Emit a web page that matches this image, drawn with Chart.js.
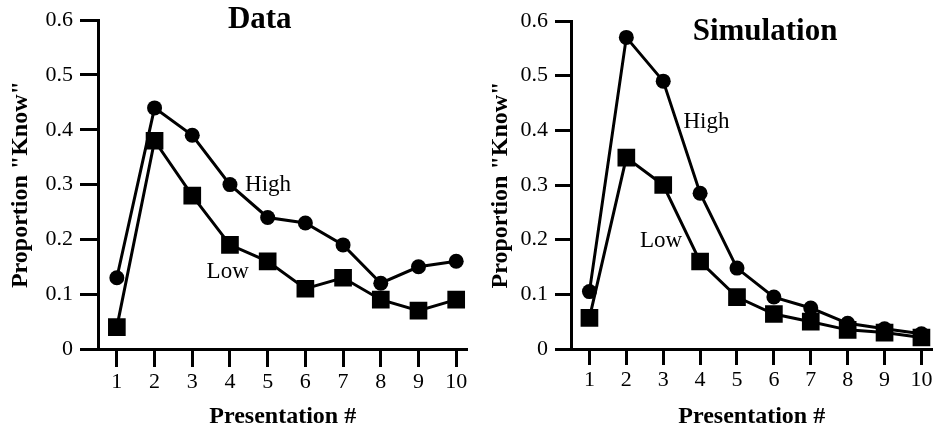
<!DOCTYPE html>
<html>
<head>
<meta charset="utf-8">
<script src="https://cdn.jsdelivr.net/npm/chart.js@4"></script>
<style>
  html, body { margin: 0; padding: 0; background: #fff; }
  #wrap { position: relative; width: 945px; height: 429px; overflow: hidden; }
  #leftChart { position: absolute; left: 0; top: 0; }
  #rightChart { position: absolute; left: 480px; top: 0; }
</style>
</head>
<body>
<div id="wrap">
  <canvas id="leftChart" width="480" height="429"></canvas>
  <canvas id="rightChart" width="465" height="429"></canvas>
</div>
<script>
// Данные
const presentations = [1, 2, 3, 4, 5, 6, 7, 8, 9, 10];
const dataHigh = [0.13, 0.44, 0.39, 0.30, 0.24, 0.23, 0.19, 0.12, 0.15, 0.16];
const dataLow  = [0.04, 0.38, 0.28, 0.19, 0.16, 0.11, 0.13, 0.09, 0.07, 0.09];
const simHigh  = [0.105, 0.57, 0.49, 0.285, 0.148, 0.095, 0.075, 0.047, 0.037, 0.028];
const simLow   = [0.057, 0.35, 0.30, 0.16, 0.095, 0.064, 0.05, 0.035, 0.03, 0.021];
const yTicks = [0, 0.1, 0.2, 0.3, 0.4, 0.5, 0.6];
const xTicks = [1, 2, 3, 4, 5, 6, 7, 8, 9, 10];
const panelTitles = ['Data', 'Simulation'];
const seriesNames = ['High', 'Low'];
const yTitle = 'Proportion "Know"';
const xTitle = 'Presentation #';

const serif = "'Liberation Serif', 'Times New Roman', serif";

// подписи внутри графика (в единицах осей)
function textPlugin(items) {
    return {
        id: 'texts',
        afterDatasetsDraw(chart) {
            const ctx = chart.ctx;
            const sx = chart.scales.x, sy = chart.scales.y;
            ctx.save();
            ctx.fillStyle = '#000';
            ctx.textBaseline = 'middle';
            items.forEach(it => {
                ctx.font = it.font;
                ctx.textAlign = it.align;
                ctx.fillText(it.text, sx.getPixelForValue(it.x), sy.getPixelForValue(it.y));
            });
            ctx.restore();
        }
    };
}

function makeChart(canvasId, high, low, opts) {
    const pts = arr => presentations.map((p, i) => ({ x: p, y: arr[i] }));
    return new Chart(document.getElementById(canvasId), {
        type: 'line',
        data: {
            datasets: [
                {
                    label: seriesNames[0],
                    data: pts(high),
                    borderColor: '#000',
                    backgroundColor: '#000',
                    borderWidth: 3,
                    pointStyle: 'circle',
                    pointRadius: 7.5,
                    pointBorderWidth: 0,
                    tension: 0
                },
                {
                    label: seriesNames[1],
                    data: pts(low),
                    borderColor: '#000',
                    backgroundColor: '#000',
                    borderWidth: 3,
                    pointStyle: 'rect',
                    pointRadius: 12.5,
                    pointBorderWidth: 0,
                    tension: 0
                }
            ]
        },
        options: {
            responsive: false,
            animation: false,
            devicePixelRatio: 1,
            layout: { padding: { left: 0, right: opts.padRight, top: opts.padTop, bottom: 0 } },
            plugins: {
                legend: { display: false },
                tooltip: { enabled: false },
                title: { display: false }
            },
            scales: {
                x: {
                    type: 'linear',
                    min: 0.5,
                    max: 10.3,
                    afterBuildTicks: s => { s.ticks = xTicks.map(v => ({ value: v })); },
                    afterFit: s => { s.height = 80; },
                    grid: {
                        drawOnChartArea: false,
                        drawTicks: true,
                        tickLength: opts.tickLen,
                        tickWidth: 3,
                        tickColor: '#000'
                    },
                    border: { display: true, color: '#000', width: 3 },
                    ticks: {
                        color: '#000',
                        padding: 2,
                        maxRotation: 0,
                        autoSkip: false,
                        font: { family: serif, size: 22 }
                    },
                    title: {
                        display: true,
                        text: xTitle,
                        color: '#000',
                        padding: 0,
                        font: { family: serif, size: 24, weight: 'bold', lineHeight: 1 }
                    }
                },
                y: {
                    min: 0,
                    max: 0.6,
                    afterBuildTicks: s => { s.ticks = yTicks.map(v => ({ value: v })); },
                    afterFit: s => { s.width = opts.yWidth; },
                    grid: {
                        drawOnChartArea: false,
                        drawTicks: true,
                        tickLength: opts.tickLen,
                        tickWidth: 3,
                        tickColor: '#000'
                    },
                    border: { display: true, color: '#000', width: 3 },
                    ticks: {
                        color: '#000',
                        padding: 7,
                        font: { family: serif, size: 22 },
                        callback: v => v === 0 ? '0' : v.toFixed(1)
                    },
                    title: {
                        display: true,
                        text: yTitle,
                        color: '#000',
                        padding: { top: 6, bottom: 0 },
                        font: { family: serif, size: 24, weight: 'bold', lineHeight: 1.2 }
                    }
                }
            }
        },
        plugins: [textPlugin(opts.texts)]
    });
}

window.onload = function() {
    makeChart('leftChart', dataHigh, dataLow, {
        padRight: 7, padTop: 15, yWidth: 98, tickLen: 18,
        texts: [
            { text: panelTitles[0], x: 4.79, y: 0.6, align: 'center', font: 'bold 31px ' + serif },
            { text: seriesNames[0], x: 4.4, y: 0.30, align: 'left', font: '23px ' + serif },
            { text: seriesNames[1], x: 3.38, y: 0.14, align: 'left', font: '23px ' + serif }
        ]
    });
    makeChart('rightChart', simHigh, simLow, {
        padRight: 2, padTop: 21, yWidth: 91, tickLen: 16,
        texts: [
            { text: panelTitles[1], x: 5.76, y: 0.58, align: 'center', font: 'bold 31px ' + serif },
            { text: seriesNames[0], x: 3.55, y: 0.415, align: 'left', font: '23px ' + serif },
            { text: seriesNames[1], x: 2.37, y: 0.197, align: 'left', font: '23px ' + serif }
        ]
    });
};
</script>
</body>
</html>
